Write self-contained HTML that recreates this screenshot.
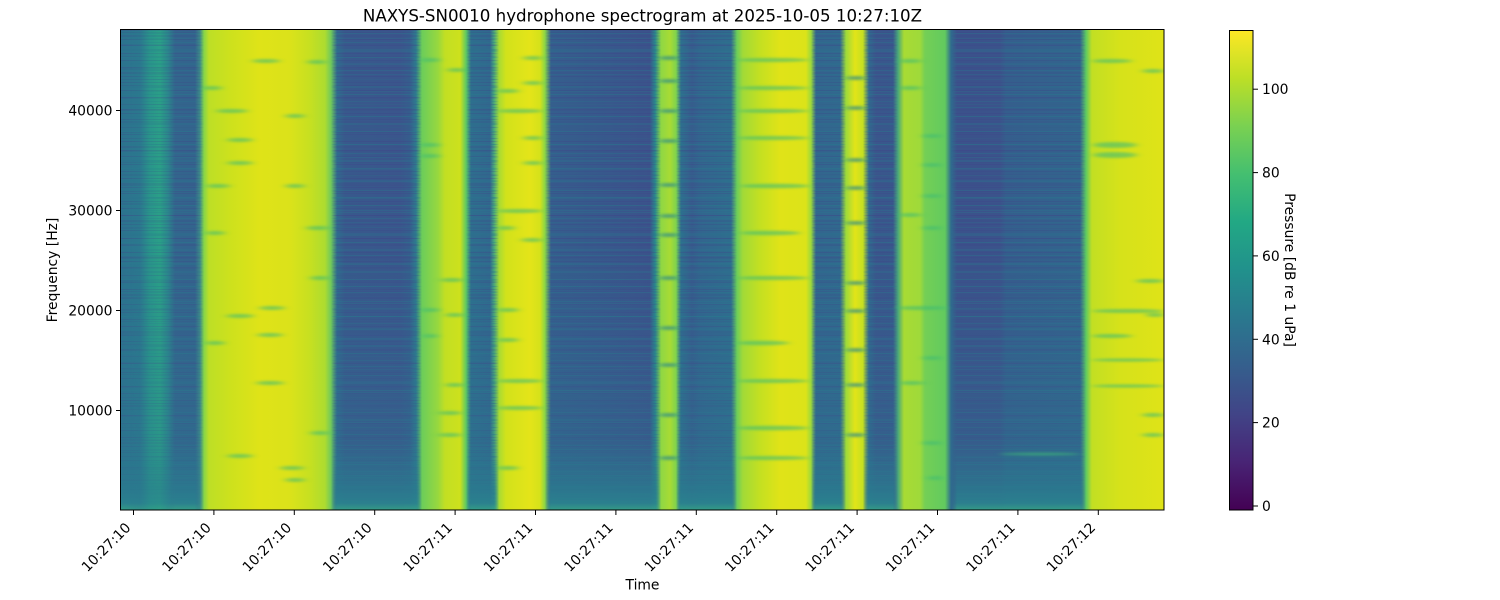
<!DOCTYPE html>
<html><head><meta charset="utf-8"><style>
html,body{margin:0;padding:0;background:#fff;}
svg{display:block;}
text{font-family:"DejaVu Sans","Liberation Sans",sans-serif;fill:#000;}
</style></head><body>
<svg width="1500" height="600" viewBox="0 0 1500 600" xmlns="http://www.w3.org/2000/svg">
<defs>
<linearGradient id="base" gradientUnits="userSpaceOnUse" x1="0" y1="0" x2="1500" y2="0">
<stop offset=".0807" stop-color="#2c728e"/>
<stop offset=".0933" stop-color="#2b788e"/>
<stop offset=".1" stop-color="#29958a"/>
<stop offset=".1067" stop-color="#2a9f87"/>
<stop offset=".112" stop-color="#2b868c"/>
<stop offset=".1167" stop-color="#33658d"/>
<stop offset=".13" stop-color="#33648d"/>
<stop offset=".1333" stop-color="#3e8a88"/>
<stop offset=".136" stop-color="#86d549"/>
<stop offset=".1393" stop-color="#bddf26"/>
<stop offset=".1533" stop-color="#cde11d"/>
<stop offset=".1733" stop-color="#dfe318"/>
<stop offset=".1933" stop-color="#dbe21a"/>
<stop offset=".2067" stop-color="#c6e021"/>
<stop offset=".2167" stop-color="#addc30"/>
<stop offset=".2207" stop-color="#70c95b"/>
<stop offset=".2247" stop-color="#31698e"/>
<stop offset=".23" stop-color="#38598c"/>
<stop offset=".2667" stop-color="#3a568c"/>
<stop offset=".2733" stop-color="#365d8d"/>
<stop offset=".2773" stop-color="#2f7a8e"/>
<stop offset=".2813" stop-color="#6ccd5a"/>
<stop offset=".292" stop-color="#98d83e"/>
<stop offset=".2967" stop-color="#c2df23"/>
<stop offset=".3067" stop-color="#cde11d"/>
<stop offset=".3107" stop-color="#5ec962"/>
<stop offset=".314" stop-color="#2e6e8e"/>
<stop offset=".3267" stop-color="#31688e"/>
<stop offset=".3293" stop-color="#4aa87a"/>
<stop offset=".3327" stop-color="#a8db34"/>
<stop offset=".3373" stop-color="#d2e21b"/>
<stop offset=".3533" stop-color="#e4e419"/>
<stop offset=".36" stop-color="#d5e21a"/>
<stop offset=".3633" stop-color="#8ad547"/>
<stop offset=".3673" stop-color="#355e8d"/>
<stop offset=".4" stop-color="#37598c"/>
<stop offset=".4333" stop-color="#3b538b"/>
<stop offset=".4367" stop-color="#2a888c"/>
<stop offset=".4407" stop-color="#8fd744"/>
<stop offset=".4467" stop-color="#a8db34"/>
<stop offset=".4507" stop-color="#7fd34e"/>
<stop offset=".454" stop-color="#2e6f8e"/>
<stop offset=".4613" stop-color="#365c8d"/>
<stop offset=".4667" stop-color="#32658e"/>
<stop offset=".4873" stop-color="#2f6d8e"/>
<stop offset=".4913" stop-color="#6ccd5a"/>
<stop offset=".4953" stop-color="#a2da37"/>
<stop offset=".5067" stop-color="#c4e021"/>
<stop offset=".52" stop-color="#e0e318"/>
<stop offset=".5373" stop-color="#dce319"/>
<stop offset=".5407" stop-color="#9dd93b"/>
<stop offset=".544" stop-color="#32668e"/>
<stop offset=".56" stop-color="#31688e"/>
<stop offset=".564" stop-color="#9dd93b"/>
<stop offset=".57" stop-color="#e2e418"/>
<stop offset=".5753" stop-color="#c5e021"/>
<stop offset=".5793" stop-color="#31688e"/>
<stop offset=".584" stop-color="#3a568c"/>
<stop offset=".5953" stop-color="#38588c"/>
<stop offset=".5987" stop-color="#4aa87a"/>
<stop offset=".6027" stop-color="#a8db34"/>
<stop offset=".6133" stop-color="#9fda3a"/>
<stop offset=".6167" stop-color="#74cf55"/>
<stop offset=".63" stop-color="#62ca5f"/>
<stop offset=".634" stop-color="#2f6c8e"/>
<stop offset=".638" stop-color="#3b528b"/>
<stop offset=".6667" stop-color="#3b538b"/>
<stop offset=".6707" stop-color="#355e8d"/>
<stop offset=".72" stop-color="#32648d"/>
<stop offset=".724" stop-color="#5ec962"/>
<stop offset=".728" stop-color="#c2df23"/>
<stop offset=".7467" stop-color="#d6e21a"/>
<stop offset=".776" stop-color="#dfe318"/>
</linearGradient>

<linearGradient id="hmask" gradientUnits="userSpaceOnUse" x1="0" y1="0" x2="1500" y2="0">
<stop offset=".0807" stop-color="#fff"/>
<stop offset=".1" stop-color="#999"/>
<stop offset=".112" stop-color="#bbb"/>
<stop offset=".1167" stop-color="#fff"/>
<stop offset=".13" stop-color="#fff"/>
<stop offset=".136" stop-color="#000"/>
<stop offset=".2207" stop-color="#000"/>
<stop offset=".2247" stop-color="#fff"/>
<stop offset=".2773" stop-color="#fff"/>
<stop offset=".2813" stop-color="#000"/>
<stop offset=".3107" stop-color="#000"/>
<stop offset=".314" stop-color="#fff"/>
<stop offset=".3293" stop-color="#fff"/>
<stop offset=".3327" stop-color="#000"/>
<stop offset=".3633" stop-color="#000"/>
<stop offset=".3673" stop-color="#fff"/>
<stop offset=".4367" stop-color="#fff"/>
<stop offset=".4407" stop-color="#000"/>
<stop offset=".4507" stop-color="#000"/>
<stop offset=".454" stop-color="#fff"/>
<stop offset=".4873" stop-color="#fff"/>
<stop offset=".4913" stop-color="#000"/>
<stop offset=".5407" stop-color="#000"/>
<stop offset=".544" stop-color="#fff"/>
<stop offset=".56" stop-color="#fff"/>
<stop offset=".564" stop-color="#000"/>
<stop offset=".5753" stop-color="#000"/>
<stop offset=".5793" stop-color="#fff"/>
<stop offset=".5953" stop-color="#fff"/>
<stop offset=".5987" stop-color="#000"/>
<stop offset=".634" stop-color="#000"/>
<stop offset=".638" stop-color="#fff"/>
<stop offset=".72" stop-color="#fff"/>
<stop offset=".724" stop-color="#000"/>
</linearGradient>

<mask id="dm" maskUnits="userSpaceOnUse" x="121" y="30" width="1043" height="480">
<rect x="121" y="30" width="1043" height="480" fill="url(#hmask)"/>
</mask>

<linearGradient id="botg" gradientUnits="userSpaceOnUse" x1="0" y1="250" x2="0" y2="510">
<stop offset="0" stop-color="#2c728e" stop-opacity="0"/>
<stop offset=".73" stop-color="#2c748e" stop-opacity=".3"/>
<stop offset=".923" stop-color="#2a7b8e" stop-opacity=".85"/>
<stop offset=".973" stop-color="#2a838e" stop-opacity=".9"/>
<stop offset="1" stop-color="#35a285" stop-opacity=".9"/>
</linearGradient>

<pattern id="nz1" patternUnits="userSpaceOnUse" x="0" y="30" width="1500" height="37">
<rect x="0" y="0" width="1500" height="1" fill="#414487" opacity=".5"/>
<rect x="0" y="3" width="1500" height="1" fill="#2a788e" opacity=".6"/>
<rect x="0" y="5" width="1500" height="2" fill="#3e4a89" opacity=".4"/>
<rect x="0" y="9" width="1500" height="1" fill="#443a83" opacity=".35"/>
<rect x="0" y="12" width="1500" height="1" fill="#2a788e" opacity=".6"/>
<rect x="0" y="15" width="1500" height="1" fill="#404688" opacity=".45"/>
<rect x="0" y="19" width="1500" height="2" fill="#2c728e" opacity=".6"/>
<rect x="0" y="23" width="1500" height="1" fill="#443a83" opacity=".35"/>
<rect x="0" y="27" width="1500" height="1" fill="#277f8e" opacity=".6"/>
<rect x="0" y="30" width="1500" height="1" fill="#414487" opacity=".45"/>
<rect x="0" y="34" width="1500" height="1" fill="#2a788e" opacity=".5"/>
</pattern>
<pattern id="nz2" patternUnits="userSpaceOnUse" x="0" y="30" width="1500" height="53">
<rect x="0" y="2" width="1500" height="1" fill="#443a83" opacity=".35"/>
<rect x="0" y="8" width="1500" height="1" fill="#2a788e" opacity=".55"/>
<rect x="0" y="14" width="1500" height="2" fill="#404688" opacity=".35"/>
<rect x="0" y="21" width="1500" height="1" fill="#277f8e" opacity=".5"/>
<rect x="0" y="26" width="1500" height="1" fill="#433e85" opacity=".3"/>
<rect x="0" y="33" width="1500" height="1" fill="#2c728e" opacity=".5"/>
<rect x="0" y="38" width="1500" height="2" fill="#3e4a89" opacity=".35"/>
<rect x="0" y="44" width="1500" height="1" fill="#2a788e" opacity=".5"/>
<rect x="0" y="49" width="1500" height="1" fill="#433e85" opacity=".35"/>
</pattern>

<filter id="bl" x="-30%" y="-300%" width="160%" height="700%">
<feGaussianBlur stdDeviation="4 1.3"/>
</filter>
<clipPath id="pc"><rect x="121" y="30" width="1043" height="480"/></clipPath>

<linearGradient id="vir" x1="0" y1="1" x2="0" y2="0">
<stop offset="0" stop-color="#440154"/>
<stop offset=".1" stop-color="#482475"/>
<stop offset=".2" stop-color="#414487"/>
<stop offset=".3" stop-color="#355f8d"/>
<stop offset=".4" stop-color="#2a788e"/>
<stop offset=".5" stop-color="#21918c"/>
<stop offset=".6" stop-color="#22a884"/>
<stop offset=".7" stop-color="#44bf70"/>
<stop offset=".8" stop-color="#7ad151"/>
<stop offset=".9" stop-color="#bddf26"/>
<stop offset="1" stop-color="#fde725"/>
</linearGradient>
</defs>

<rect width="1500" height="600" fill="#fff"/>

<!-- spectrogram -->
<g clip-path="url(#pc)">
<rect x="121" y="30" width="1043" height="480" fill="url(#base)"/>
<g mask="url(#dm)">
<rect x="121" y="30" width="1043" height="480" fill="url(#nz1)" opacity=".6"/>
<rect x="121" y="30" width="1043" height="480" fill="url(#nz2)" opacity=".5"/>
<rect x="121" y="250" width="1043" height="260" fill="url(#botg)"/>
</g>
<g filter="url(#bl)" fill="#3cbb75" opacity=".6">
<!-- band 1 -->
<ellipse cx="266" cy="61" rx="14" ry="2"/><ellipse cx="317" cy="62" rx="10" ry="2"/>
<ellipse cx="212" cy="88" rx="10" ry="2"/><ellipse cx="232" cy="111" rx="16" ry="2"/>
<ellipse cx="295" cy="116" rx="10" ry="2"/><ellipse cx="240" cy="140" rx="13" ry="2"/>
<ellipse cx="240" cy="163" rx="13" ry="2"/><ellipse cx="218" cy="186" rx="12" ry="2"/>
<ellipse cx="295" cy="186" rx="10" ry="2"/><ellipse cx="318" cy="228" rx="12" ry="2"/>
<ellipse cx="215" cy="233" rx="10" ry="2"/><ellipse cx="320" cy="278" rx="10" ry="2"/>
<ellipse cx="272" cy="308" rx="13" ry="2"/><ellipse cx="240" cy="316" rx="14" ry="2"/>
<ellipse cx="270" cy="335" rx="13" ry="2"/><ellipse cx="215" cy="343" rx="10" ry="2"/>
<ellipse cx="270" cy="383" rx="14" ry="2"/><ellipse cx="320" cy="433" rx="10" ry="2"/>
<ellipse cx="240" cy="456" rx="13" ry="2"/><ellipse cx="292" cy="468" rx="12" ry="2"/>
<ellipse cx="295" cy="480" rx="10" ry="2"/>
<!-- band 2 -->
<ellipse cx="430" cy="60" rx="10" ry="2"/><ellipse cx="457" cy="70" rx="10" ry="2"/>
<ellipse cx="430" cy="145" rx="10" ry="2"/><ellipse cx="430" cy="156" rx="10" ry="2"/>
<ellipse cx="452" cy="280" rx="12" ry="2"/><ellipse cx="430" cy="310" rx="10" ry="2"/>
<ellipse cx="455" cy="315" rx="10" ry="2"/><ellipse cx="430" cy="336" rx="8" ry="2"/>
<ellipse cx="455" cy="385" rx="10" ry="2"/><ellipse cx="450" cy="413" rx="12" ry="2"/>
<ellipse cx="450" cy="435" rx="12" ry="2"/>
<!-- band 3 -->
<ellipse cx="533" cy="58" rx="10" ry="2"/><ellipse cx="533" cy="83" rx="10" ry="2"/>
<ellipse cx="508" cy="91" rx="11" ry="2"/><ellipse cx="520" cy="111" rx="23" ry="2"/>
<ellipse cx="533" cy="138" rx="10" ry="2"/><ellipse cx="533" cy="163" rx="10" ry="2"/>
<ellipse cx="520" cy="211" rx="23" ry="2"/><ellipse cx="506" cy="228" rx="9" ry="2"/>
<ellipse cx="532" cy="240" rx="11" ry="2"/><ellipse cx="508" cy="310" rx="11" ry="2"/>
<ellipse cx="508" cy="340" rx="11" ry="2"/><ellipse cx="520" cy="381" rx="23" ry="2"/>
<ellipse cx="520" cy="408" rx="23" ry="2"/><ellipse cx="508" cy="468" rx="11" ry="2"/>
<!-- band 5 -->
<ellipse cx="773" cy="60" rx="36" ry="2"/><ellipse cx="773" cy="88" rx="36" ry="2"/>
<ellipse cx="773" cy="111" rx="36" ry="2"/><ellipse cx="773" cy="138" rx="36" ry="2"/>
<ellipse cx="775" cy="186" rx="35" ry="2.3"/><ellipse cx="770" cy="233" rx="30" ry="2.3"/>
<ellipse cx="773" cy="278" rx="36" ry="2"/><ellipse cx="763" cy="343" rx="26" ry="2.3"/>
<ellipse cx="773" cy="381" rx="36" ry="2"/><ellipse cx="773" cy="428" rx="36" ry="2.3"/>
<ellipse cx="773" cy="458" rx="36" ry="2"/>
<!-- band 7 -->
<ellipse cx="910" cy="61" rx="12" ry="2"/><ellipse cx="910" cy="88" rx="12" ry="2"/>
<ellipse cx="932" cy="136" rx="10" ry="2"/><ellipse cx="932" cy="165" rx="10" ry="2"/>
<ellipse cx="932" cy="196" rx="10" ry="2"/><ellipse cx="910" cy="215" rx="12" ry="2"/>
<ellipse cx="932" cy="228" rx="10" ry="2"/><ellipse cx="922" cy="308" rx="26" ry="2"/>
<ellipse cx="932" cy="358" rx="10" ry="2"/><ellipse cx="912" cy="383" rx="13" ry="2"/>
<ellipse cx="932" cy="443" rx="10" ry="2"/><ellipse cx="935" cy="478" rx="8" ry="2"/>
<!-- band 8 -->
<ellipse cx="1112" cy="61" rx="20" ry="2"/><ellipse cx="1153" cy="71" rx="11" ry="2"/>
<ellipse cx="1115" cy="145" rx="22" ry="3"/><ellipse cx="1115" cy="155" rx="22" ry="3"/>
<ellipse cx="1150" cy="281" rx="14" ry="2"/><ellipse cx="1128" cy="311" rx="36" ry="2"/>
<ellipse cx="1155" cy="315" rx="9" ry="2"/><ellipse cx="1112" cy="336" rx="20" ry="2"/>
<ellipse cx="1128" cy="360" rx="36" ry="1.6"/><ellipse cx="1128" cy="386" rx="36" ry="1.6"/>
<ellipse cx="1153" cy="415" rx="11" ry="2"/><ellipse cx="1153" cy="435" rx="11" ry="2"/>
<!-- light streak in dark region -->
<ellipse cx="1040" cy="454" rx="40" ry="1.5"/>
</g>
<g filter="url(#bl)" fill="#2a8a8c" opacity=".7">
<!-- narrow green band breaks -->
<ellipse cx="669" cy="58" rx="10" ry="2"/><ellipse cx="669" cy="81" rx="10" ry="2"/>
<ellipse cx="669" cy="111" rx="10" ry="2"/><ellipse cx="669" cy="141" rx="10" ry="2"/>
<ellipse cx="669" cy="185" rx="10" ry="2"/><ellipse cx="669" cy="216" rx="10" ry="2"/>
<ellipse cx="669" cy="235" rx="10" ry="2"/><ellipse cx="669" cy="278" rx="10" ry="2"/>
<ellipse cx="669" cy="328" rx="10" ry="2"/><ellipse cx="669" cy="365" rx="10" ry="2"/>
<ellipse cx="669" cy="415" rx="10" ry="2"/><ellipse cx="669" cy="458" rx="10" ry="2"/>
<!-- narrow yellow band breaks -->
<ellipse cx="856" cy="78" rx="10" ry="2"/><ellipse cx="856" cy="108" rx="10" ry="2"/>
<ellipse cx="856" cy="160" rx="10" ry="2"/><ellipse cx="856" cy="188" rx="10" ry="2"/>
<ellipse cx="856" cy="223" rx="10" ry="2"/><ellipse cx="856" cy="283" rx="10" ry="2"/>
<ellipse cx="856" cy="311" rx="10" ry="2"/><ellipse cx="856" cy="350" rx="10" ry="2"/>
<ellipse cx="856" cy="385" rx="10" ry="2"/><ellipse cx="856" cy="435" rx="10" ry="2"/>
</g>
</g>
<rect x="120.5" y="29.5" width="1043.5" height="480.5" fill="none" stroke="#000" stroke-width="1"/>

<!-- title -->
<text x="642.5" y="21.7" text-anchor="middle" font-size="16.67">NAXYS-SN0010 hydrophone spectrogram at 2025-10-05 10:27:10Z</text>

<!-- y ticks -->
<g stroke="#000" stroke-width="1">
<line x1="116" y1="110.5" x2="121" y2="110.5"/>
<line x1="116" y1="210.5" x2="121" y2="210.5"/>
<line x1="116" y1="310.5" x2="121" y2="310.5"/>
<line x1="116" y1="410.5" x2="121" y2="410.5"/>
</g>
<g font-size="13.89" text-anchor="end">
<text x="112.5" y="115.5">40000</text>
<text x="112.5" y="215.5">30000</text>
<text x="112.5" y="315.5">20000</text>
<text x="112.5" y="415.5">10000</text>
</g>
<text transform="translate(57,270) rotate(-90)" text-anchor="middle" font-size="13.89">Frequency [Hz]</text>

<!-- x ticks -->
<g stroke="#000" stroke-width="1">
<line x1="133.5" y1="510" x2="133.5" y2="515"/>
<line x1="213.9" y1="510" x2="213.9" y2="515"/>
<line x1="294.3" y1="510" x2="294.3" y2="515"/>
<line x1="374.7" y1="510" x2="374.7" y2="515"/>
<line x1="455.1" y1="510" x2="455.1" y2="515"/>
<line x1="535.5" y1="510" x2="535.5" y2="515"/>
<line x1="615.9" y1="510" x2="615.9" y2="515"/>
<line x1="696.3" y1="510" x2="696.3" y2="515"/>
<line x1="776.7" y1="510" x2="776.7" y2="515"/>
<line x1="857.1" y1="510" x2="857.1" y2="515"/>
<line x1="937.5" y1="510" x2="937.5" y2="515"/>
<line x1="1017.9" y1="510" x2="1017.9" y2="515"/>
<line x1="1098.3" y1="510" x2="1098.3" y2="515"/>
</g>
<g font-size="13.89" text-anchor="end">
<text transform="translate(131.5,528.5) rotate(-45)">10:27:10</text>
<text transform="translate(211.9,528.5) rotate(-45)">10:27:10</text>
<text transform="translate(292.3,528.5) rotate(-45)">10:27:10</text>
<text transform="translate(372.7,528.5) rotate(-45)">10:27:10</text>
<text transform="translate(453.1,528.5) rotate(-45)">10:27:11</text>
<text transform="translate(533.5,528.5) rotate(-45)">10:27:11</text>
<text transform="translate(613.9,528.5) rotate(-45)">10:27:11</text>
<text transform="translate(694.3,528.5) rotate(-45)">10:27:11</text>
<text transform="translate(774.7,528.5) rotate(-45)">10:27:11</text>
<text transform="translate(855.1,528.5) rotate(-45)">10:27:11</text>
<text transform="translate(935.5,528.5) rotate(-45)">10:27:11</text>
<text transform="translate(1015.9,528.5) rotate(-45)">10:27:11</text>
<text transform="translate(1096.3,528.5) rotate(-45)">10:27:12</text>
</g>
<text x="642.5" y="589.5" text-anchor="middle" font-size="13.89">Time</text>

<!-- colorbar -->
<rect x="1229" y="30" width="24" height="480" fill="url(#vir)"/>
<rect x="1229.5" y="30.5" width="23.5" height="479.5" fill="none" stroke="#000" stroke-width="1"/>
<g stroke="#000" stroke-width="1">
<line x1="1253" y1="506" x2="1258" y2="506"/>
<line x1="1253" y1="422.6" x2="1258" y2="422.6"/>
<line x1="1253" y1="339.3" x2="1258" y2="339.3"/>
<line x1="1253" y1="255.9" x2="1258" y2="255.9"/>
<line x1="1253" y1="172.6" x2="1258" y2="172.6"/>
<line x1="1253" y1="89.2" x2="1258" y2="89.2"/>
</g>
<g font-size="13.89">
<text x="1262" y="511">0</text>
<text x="1262" y="427.6">20</text>
<text x="1262" y="344.3">40</text>
<text x="1262" y="260.9">60</text>
<text x="1262" y="177.6">80</text>
<text x="1262" y="94.2">100</text>
</g>
<text transform="translate(1285,270) rotate(90)" text-anchor="middle" font-size="13.89">Pressure [dB re 1 uPa]</text>
</svg>
</body></html>
